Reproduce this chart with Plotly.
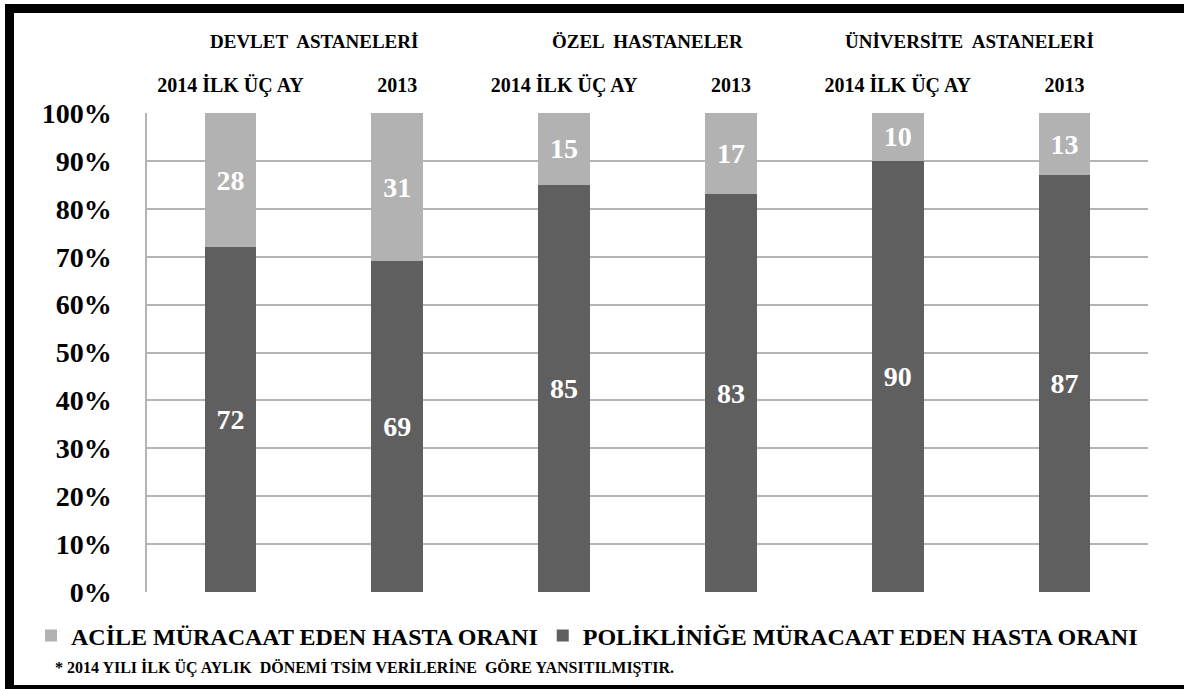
import plotly.graph_objects as go

# ---- data ----
group_labels = ["DEVLET  ASTANELERİ", "ÖZEL  HASTANELER", "ÜNİVERSİTE  ASTANELERİ"]
period_labels = ["2014 İLK ÜÇ AY", "2013", "2014 İLK ÜÇ AY", "2013", "2014 İLK ÜÇ AY", "2013"]
poliklinik = [72, 69, 85, 83, 90, 87]
acil = [28, 31, 15, 17, 10, 13]
series_names = ["POLİKLİNİĞE MÜRACAAT EDEN HASTA ORANI", "ACİLE MÜRACAAT EDEN HASTA ORANI"]
footnote = "* 2014 YILI İLK ÜÇ AYLIK  DÖNEMİ TSİM VERİLERİNE  GÖRE YANSITILMIŞTIR."

W, H = 1184, 689
L, R, T, B = 147, 36, 113, 97
PW, PH = W - L - R, H - T - B

def px(xp):
    return (xp - L) / PW

def py(yp):
    return (H - B - yp) / PH

FONT = "'Liberation Serif', 'Times New Roman', Times, serif"
DARK = "#5f5f5f"
LIGHT = "#b2b2b2"

xs = list(range(len(period_labels)))

fig = go.Figure()
fig.add_trace(go.Bar(
    x=xs, y=[v / 100 for v in poliklinik], name=series_names[0],
    marker=dict(color=DARK, line=dict(width=0)),
    text=[str(v) for v in poliklinik], textposition="inside",
    insidetextanchor="middle", textangle=0, constraintext="none",
    textfont=dict(family=FONT, size=28, color="white", weight="bold"),
    hoverinfo="skip",
))
fig.add_trace(go.Bar(
    x=xs, y=[v / 100 for v in acil], name=series_names[1],
    marker=dict(color=LIGHT, line=dict(width=0)),
    text=[str(v) for v in acil], textposition="inside",
    insidetextanchor="middle", textangle=0, constraintext="none",
    textfont=dict(family=FONT, size=28, color="white", weight="bold"),
    hoverinfo="skip",
))

annotations = []
for i, g in enumerate(group_labels):
    annotations.append(dict(
        text=g, xref="x", yref="paper", x=2 * i + 0.5, y=py(41),
        xanchor="center", yanchor="middle", showarrow=False,
        xshift=-12 if i == 2 else 0,
        font=dict(family=FONT, size=19, color="black", weight="bold"),
    ))
annotations.append(dict(
    text=footnote, xref="paper", yref="paper", x=px(53), y=py(667),
    xanchor="left", yanchor="middle", showarrow=False,
    font=dict(family=FONT, size=16, color="black", weight="bold"),
))

shapes = [
    dict(type="rect", xref="paper", yref="paper", x0=px(5), x1=px(W + 2), y0=py(13), y1=py(4),
         fillcolor="black", line=dict(width=0), layer="above"),
    dict(type="rect", xref="paper", yref="paper", x0=px(5), x1=px(14), y0=py(689), y1=py(4),
         fillcolor="black", line=dict(width=0), layer="above"),
    dict(type="rect", xref="paper", yref="paper", x0=px(5), x1=px(W + 2), y0=py(690), y1=py(685),
         fillcolor="black", line=dict(width=0), layer="above"),
]

fig.update_layout(
    width=W, height=H,
    margin=dict(l=L, r=R, t=T, b=B, pad=0),
    paper_bgcolor="white", plot_bgcolor="white",
    barmode="stack", bargap=0.69,
    showlegend=True,
    legend=dict(
        orientation="h", traceorder="reversed",
        x=px(31), xanchor="left", y=py(636), yanchor="middle",
        font=dict(family=FONT, size=24, color="black", weight="bold"),
        itemwidth=30, itemclick=False, itemdoubleclick=False,
        bgcolor="rgba(0,0,0,0)",
    ),
    xaxis=dict(
        side="top", tickmode="array", tickvals=xs, ticktext=period_labels,
        range=[-0.5, len(xs) - 0.5],
        showgrid=False, zeroline=False, showline=False, ticks="",
        ticklabelstandoff=16,
        tickfont=dict(family=FONT, size=20, color="black", weight="bold"),
        fixedrange=True,
    ),
    yaxis=dict(
        range=[0, 1], dtick=0.1, tickformat=".0%",
        showgrid=True, gridcolor="#b4b4b4", gridwidth=1.5,
        zeroline=False, showline=True, linecolor="#b4b4b4", linewidth=1.5,
        ticks="", ticklabelstandoff=28,
        tickfont=dict(family=FONT, size=28, color="black", weight="bold"),
        fixedrange=True,
    ),
    annotations=annotations,
    shapes=shapes,
    font=dict(family=FONT),
)

fig.write_html("out.html", config={"displayModeBar": False})
